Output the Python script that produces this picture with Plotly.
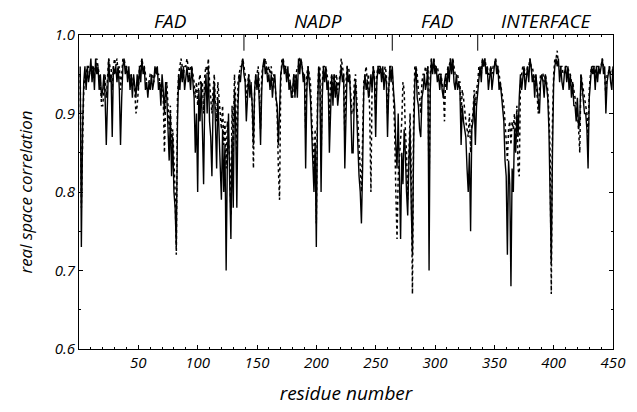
import plotly.graph_objects as go

# residue numbers 1..450
residues = list(range(1, 451))

# real space correlation (hundredths), solid line series
solid_pct = [
    96, 73, 88, 94, 96, 93, 96, 94, 95, 97,
    94, 96, 93, 97, 95, 96, 93, 95, 92, 93,
    95, 92, 86, 94, 97, 94, 95, 87, 96, 95,
    96, 94, 96, 93, 86, 92, 96, 97, 95, 96,
    94, 96, 93, 95, 92, 95, 93, 92, 95, 93,
    96, 94, 97, 95, 96, 93, 94, 92, 94, 93,
    95, 93, 94, 96, 95, 96, 93, 94, 91, 95,
    93, 90, 94, 92, 88, 84, 90, 82, 87, 80,
    78, 73, 89, 95, 93, 96, 94, 96, 93, 95,
    96, 94, 95, 93, 96, 94, 92, 85, 90, 80,
    93, 89, 94, 88, 81, 92, 95, 90, 96, 89,
    87, 82, 91, 94, 86, 83, 92, 87, 84, 79,
    88, 80, 86, 70, 84, 90, 81, 74, 87, 78,
    93, 89, 78, 91, 95, 94, 96, 97, 95, 94,
    89, 93, 95, 92, 94, 91, 86, 93, 95, 93,
    95, 91, 86, 93, 96, 97, 95, 96, 94, 95,
    93, 95, 92, 94, 95, 92, 91, 86, 90, 95,
    96, 97, 95, 96, 94, 96, 93, 94, 92, 93,
    95, 92, 95, 92, 97, 95, 97, 96, 94, 95,
    83, 93, 96, 94, 92, 88, 84, 80, 86, 73,
    90, 96, 94, 80, 92, 96, 94, 96, 93, 94,
    85, 92, 95, 91, 95, 92, 94, 91, 93, 95,
    96, 94, 95, 83, 92, 96, 94, 95, 91, 85,
    85, 92, 94, 89, 87, 82, 80, 76, 83, 93,
    95, 93, 94, 92, 93, 95, 93, 96, 94, 87,
    94, 96, 95, 96, 94, 96, 93, 95, 94, 87,
    93, 96, 94, 96, 93, 91, 86, 83, 90, 80,
    74, 85, 81, 88, 85, 80, 77, 84, 88, 78,
    72, 86, 94, 96, 92, 91, 88, 87, 92, 93,
    95, 93, 94, 96, 70, 93, 97, 95, 97, 95,
    96, 94, 95, 93, 95, 93, 92, 94, 95, 93,
    96, 94, 97, 95, 97, 94, 93, 95, 93, 94,
    93, 86, 91, 89, 88, 87, 83, 80, 85, 75,
    88, 89, 92, 86, 91, 93, 95, 96, 94, 97,
    96, 97, 95, 96, 93, 95, 96, 93, 95, 96,
    97, 95, 96, 93, 94, 92, 91, 89, 84, 82,
    72, 84, 81, 68, 83, 80, 88, 85, 90, 87,
    92, 95, 93, 95, 96, 93, 95, 96, 94, 97,
    96, 94, 95, 92, 95, 93, 92, 90, 94, 95,
    94, 92, 95, 93, 92, 88, 80, 71, 85, 94,
    96, 97, 96, 97, 94, 96, 94, 93, 95, 96,
    94, 96, 93, 95, 92, 94, 91, 91, 89, 92,
    88, 89, 95, 93, 92, 90, 90, 88, 83, 92,
    94, 96, 95, 96, 93, 96, 94, 96, 95, 96,
    97, 95, 96, 90, 94, 95, 96, 94, 93, 96,
]

# real space correlation (hundredths), dotted line series
dotted_pct = [
    95, 78, 86, 93, 95, 95, 96, 96, 95, 96,
    96, 95, 96, 96, 97, 96, 95, 94, 91, 91,
    93, 95, 92, 95, 97, 96, 96, 93, 96, 97,
    96, 97, 95, 96, 93, 95, 97, 97, 96, 96,
    95, 95, 94, 95, 94, 94, 93, 90, 91, 93,
    96, 96, 97, 96, 96, 95, 94, 94, 94, 95,
    95, 95, 94, 95, 96, 95, 95, 94, 93, 93,
    92, 85, 92, 94, 90, 88, 91, 86, 88, 84,
    80, 72, 92, 95, 96, 97, 96, 95, 96, 96,
    97, 96, 95, 96, 96, 95, 94, 92, 94, 91,
    94, 95, 93, 94, 90, 95, 96, 95, 97, 94,
    92, 90, 93, 95, 91, 89, 94, 92, 90, 88,
    91, 86, 89, 83, 89, 87, 84, 77, 91, 85,
    95, 92, 84, 94, 95, 96, 96, 97, 96, 95,
    92, 94, 95, 94, 93, 91, 83, 93, 95, 95,
    96, 93, 88, 95, 96, 96, 97, 96, 95, 96,
    95, 96, 94, 95, 94, 92, 90, 83, 79, 94,
    97, 97, 96, 96, 96, 95, 95, 94, 93, 92,
    95, 94, 95, 96, 96, 97, 97, 96, 95, 95,
    88, 95, 96, 95, 94, 90, 86, 83, 88, 76,
    92, 96, 96, 84, 94, 96, 96, 96, 95, 94,
    89, 94, 95, 93, 95, 94, 95, 93, 94, 95,
    97, 96, 95, 87, 94, 96, 96, 95, 93, 90,
    90, 94, 95, 92, 89, 85, 83, 80, 87, 94,
    95, 96, 94, 95, 90, 80, 94, 96, 95, 90,
    95, 96, 96, 96, 96, 95, 95, 96, 95, 90,
    94, 96, 96, 95, 92, 88, 80, 74, 82, 84,
    86, 89, 94, 93, 88, 85, 79, 84, 90, 82,
    67, 90, 96, 96, 95, 93, 92, 90, 94, 95,
    95, 96, 95, 96, 80, 95, 97, 97, 97, 96,
    96, 96, 95, 95, 95, 94, 93, 89, 95, 95,
    96, 96, 97, 96, 97, 96, 95, 95, 95, 94,
    94, 90, 93, 92, 90, 89, 88, 87, 90, 85,
    89, 90, 93, 91, 93, 94, 96, 96, 95, 97,
    96, 97, 96, 96, 95, 95, 96, 95, 96, 96,
    97, 96, 96, 95, 94, 93, 92, 91, 89, 86,
    84, 88, 89, 86, 89, 88, 90, 86, 91, 83,
    82, 94, 95, 96, 96, 95, 95, 96, 96, 97,
    96, 96, 95, 94, 95, 93, 90, 93, 95, 95,
    95, 94, 95, 94, 93, 90, 85, 67, 89, 95,
    97, 97, 98, 96, 96, 96, 96, 95, 95, 96,
    96, 96, 95, 95, 94, 94, 93, 92, 91, 90,
    88, 85, 95, 94, 93, 92, 91, 90, 87, 93,
    95, 96, 96, 96, 95, 96, 96, 96, 96, 96,
    97, 96, 95, 92, 95, 95, 96, 95, 95, 96,
]

solid_vals = [v / 100 for v in solid_pct]
dotted_vals = [v / 100 for v in dotted_pct]

# domain labels and boundaries (residue numbers)
domain_names = ["FAD", "NADP", "FAD", "INTERFACE"]
domain_centers = [77, 201, 302, 394]
domain_bounds = [139, 264, 336]

x_tick_vals = [50, 100, 150, 200, 250, 300, 350, 400, 450]
y_tick_vals = [0.6, 0.7, 0.8, 0.9, 1.0]

FONT = "Open Sans"

fig = go.Figure()
fig.add_trace(go.Scatter(
    x=residues, y=dotted_vals, mode="lines",
    line=dict(color="black", width=1.5, dash="dot"),
    showlegend=False, hoverinfo="skip",
))
fig.add_trace(go.Scatter(
    x=residues, y=solid_vals, mode="lines",
    line=dict(color="black", width=1.4),
    showlegend=False, hoverinfo="skip",
))

for b in domain_bounds:
    fig.add_shape(type="line", xref="x", yref="y",
                  x0=b, x1=b, y0=1.0, y1=0.98,
                  line=dict(color="black", width=1))

for name, c in zip(domain_names, domain_centers):
    fig.add_annotation(x=c, y=1.0, xref="x", yref="y", yshift=14,
                       text=name, showarrow=False,
                       font=dict(family=FONT, size=19, color="black", style="italic"))

axis_common = dict(
    showgrid=False, zeroline=False, showline=True, linecolor="black",
    linewidth=1, mirror="allticks", ticks="inside", ticklen=4,
    tickcolor="black", tickwidth=1,
    tickfont=dict(family=FONT, size=15, color="black", style="italic"),
)

fig.update_xaxes(
    range=[0, 450], tickvals=x_tick_vals,
    minor=dict(dtick=10, ticks="inside", ticklen=2, tickcolor="black"),
    title=dict(text="residue number",
               font=dict(family=FONT, size=19, color="black", style="italic"),
               standoff=15),
    **axis_common,
)
fig.update_yaxes(
    range=[0.6, 1.0], tickvals=y_tick_vals, tickformat=".1f",
    minor=dict(dtick=0.05, ticks="inside", ticklen=2, tickcolor="black"),
    title=dict(text="real space correlation",
               font=dict(family=FONT, size=17, color="black", style="italic"),
               standoff=17),
    **axis_common,
)

fig.update_layout(
    width=629, height=404,
    margin=dict(l=71, r=15, t=27, b=55),
    paper_bgcolor="white", plot_bgcolor="white",
)

fig.write_html("out.html")
